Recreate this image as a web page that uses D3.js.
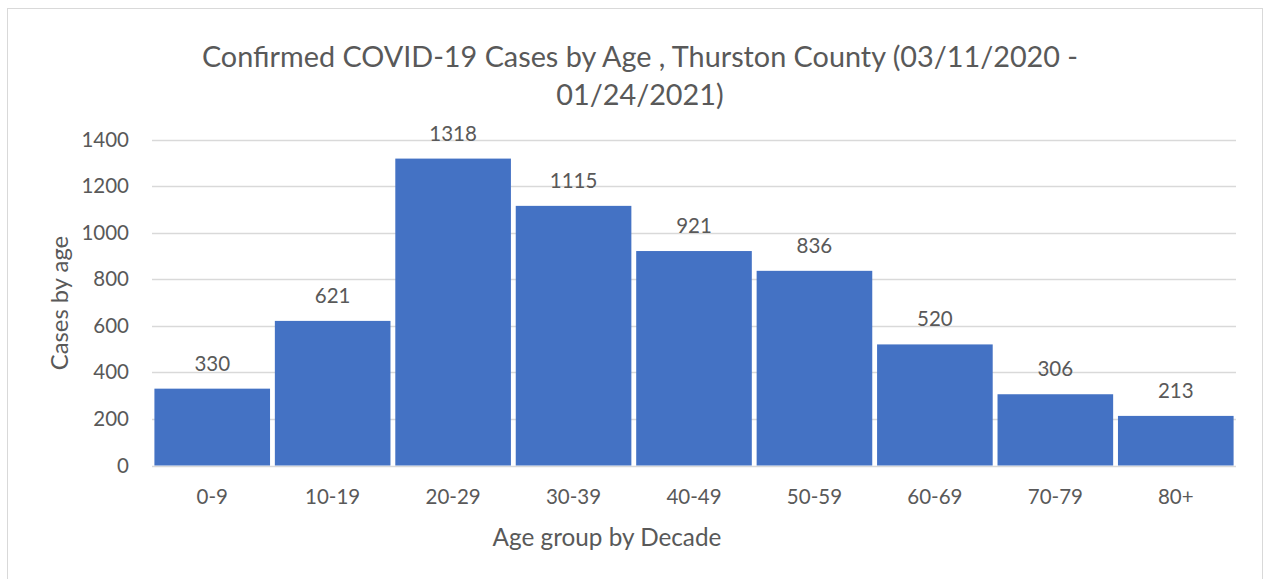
<!DOCTYPE html>
<html><head><meta charset="utf-8">
<script src="https://cdn.jsdelivr.net/npm/d3@7"></script>
<style>body{margin:0;background:#fff}svg text{font-family:Lato,"Open Sans",sans-serif;fill:#595959}</style>
</head><body><svg id="c" width="1265" height="579"></svg>
<script>
(function(){
const categories = ["0-9","10-19","20-29","30-39","40-49","50-59","60-69","70-79","80+"];
const cases = [330,621,1318,1115,921,836,520,306,213];
const yTicks = [0,200,400,600,800,1000,1200,1400];
const titleLines = ["Confirmed COVID-19 Cases by Age , Thurston County (03/11/2020 -","01/24/2021)"];
const xTitle = "Age group by Decade";
const yTitle = "Cases by age";

const svg = d3.select("#c");
svg.append("rect").attr("x",7.5).attr("y",8.5).attr("width",1255).attr("height",580).attr("fill","#fff").attr("stroke","#d9d9d9");

const pLeft=152,pRight=1236,pTop=139.5,pBottom=465.5;
const x = d3.scaleBand().domain(categories).range([pLeft,pRight]).paddingInner(0.04).paddingOuter(0.02);
const y = d3.scaleLinear().domain([0,1400]).range([pBottom,pTop]);

svg.append("g").selectAll("line").data(yTicks).join("line")
  .attr("x1",pLeft).attr("x2",pRight).attr("y1",d=>Math.round(y(d))+0.5).attr("y2",d=>Math.round(y(d))+0.5)
  .attr("stroke","#d9d9d9").attr("stroke-width",1.3);

const yAxis = d3.axisLeft(y).tickValues(yTicks).tickFormat(d3.format("d")).tickSize(0).tickPadding(0);
const ga = svg.append("g").attr("transform",`translate(${pLeft-23},0)`).call(yAxis);
ga.select(".domain").remove();
ga.selectAll("text").style("font-size","20.5px").attr("fill","#595959").style("font-family","Lato");

svg.append("g").selectAll("rect").data(cases).join("rect")
  .attr("x",(d,i)=>x(categories[i])).attr("width",x.bandwidth())
  .attr("y",d=>y(d)).attr("height",d=>y(0)-y(d)).attr("fill","#4472C4");

svg.append("g").selectAll("text").data(cases).join("text")
  .attr("x",(d,i)=>x(categories[i])+x.bandwidth()/2).attr("y",d=>y(d)-18)
  .attr("text-anchor","middle").style("font-size","20.5px").text(d=>d);

const xAxis = d3.axisBottom(x).tickSize(0).tickPadding(0);
const gx = svg.append("g").attr("transform",`translate(0,${pBottom+38})`).call(xAxis);
gx.select(".domain").remove();
gx.selectAll("text").style("font-size","20.5px").attr("fill","#595959").style("font-family","Lato").attr("dy",0);

svg.append("text").attr("x",607).attr("y",546).attr("text-anchor","middle").style("font-size","24.3px").text(xTitle);
svg.append("text").attr("transform","translate(68,303) rotate(-90)").attr("text-anchor","middle").style("font-size","23.8px").text(yTitle);

svg.append("g").selectAll("text").data(titleLines).join("text")
  .attr("x",640).attr("y",(d,i)=>67+i*38).attr("text-anchor","middle").style("font-size","28.8px").text(d=>d);
})();
</script></body></html>
